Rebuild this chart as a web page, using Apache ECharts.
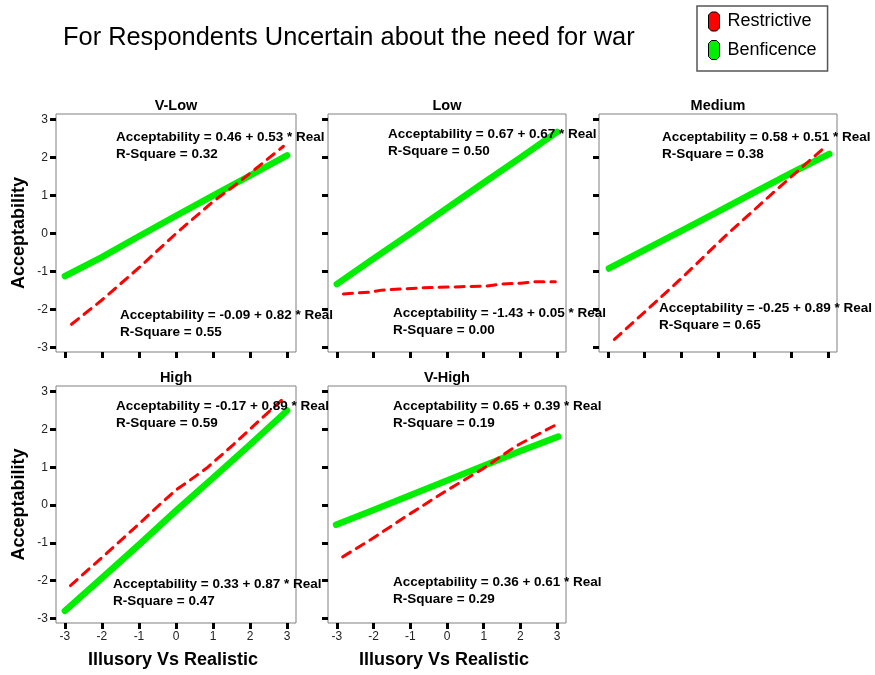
<!DOCTYPE html>
<html><head><meta charset="utf-8">
<script src="https://cdn.jsdelivr.net/npm/echarts@6/dist/echarts.min.js"></script>
<style>html,body{margin:0;padding:0;background:#fff}#c{width:875px;height:675px}</style>
</head><body><div id="c"></div>
<script>
// ---------- data ----------
const chartTitle = 'For Respondents Uncertain about the need for war';
const panelTitles = ['V-Low', 'Low', 'Medium', 'High', 'V-High'];
const tickValues = [-3, -2, -1, 0, 1, 2, 3];
const xTitle = 'Illusory Vs Realistic';
const yTitle = 'Acceptability';
const seriesNames = ['Restrictive', 'Benficence'];

// Benficence (green) fitted lines
const benVLow   = [[-3, -1.12], [-2, -0.62], [-1, -0.07], [0, 0.47], [1, 1.0], [2, 1.53], [3, 2.06]];
const benLow    = [[-3, -1.33], [-2, -0.66], [-1, 0.0], [0, 0.67], [1, 1.34], [2, 2.0], [3, 2.68]];
const benMedium = [[-2.97, -0.92], [-2, -0.43], [-1, 0.07], [0, 0.58], [1, 1.09], [2, 1.6], [3.03, 2.1]];
const benHigh   = [[-3, -2.8], [-2, -1.93], [-1, -1.05], [0, -0.15], [1, 0.72], [2, 1.6], [3, 2.5]];
const benVHigh  = [[-3.02, -0.52], [-2, -0.13], [-1, 0.26], [0, 0.65], [1, 1.04], [2, 1.43], [3.03, 1.81]];

// Restrictive (red dashed) lines
const resVLow   = [[-2.82, -2.39], [-2, -1.75], [-1, -0.9], [0.02, 0.02], [1.01, 0.85], [1.55, 1.24], [2.09, 1.66], [2.9, 2.3]];
const resLow    = [[-2.82, -1.59], [-2.05, -1.54], [-1.78, -1.49], [-0.7, -1.43], [0.38, -1.4], [1.1, -1.38], [1.46, -1.33], [2.0, -1.31], [2.36, -1.27], [2.95, -1.27]];
const resMedium = [[-2.82, -2.79], [-2, -2.07], [-0.93, -1.12], [0.16, -0.1], [1.6, 1.16], [2.96, 2.32]];
const resHigh   = [[-2.85, -2.13], [-1.9, -1.3], [-0.88, -0.39], [-0.4, 0.05], [0, 0.4], [0.38, 0.66], [0.83, 0.98], [1.55, 1.6], [2.1, 2.1], [2.91, 2.83]];
const resVHigh  = [[-2.84, -1.37], [-2.07, -0.91], [-0.99, -0.22], [0, 0.39], [0.98, 0.96], [1.62, 1.39], [1.97, 1.61], [2.92, 2.1]];

const benData = [benVLow, benLow, benMedium, benHigh, benVHigh];
const resData = [resVLow, resLow, resMedium, resHigh, resVHigh];

// regression annotations
const benEq = ['0.46 + 0.53', '0.67 + 0.67', '0.58 + 0.51', '-0.17 + 0.89', '0.65 + 0.39'];
const benR2 = ['0.32', '0.50', '0.38', '0.59', '0.19'];
const resEq = ['-0.09 + 0.82', '-1.43 + 0.05', '-0.25 + 0.89', '0.33 + 0.87', '0.36 + 0.61'];
const resR2 = ['0.55', '0.00', '0.65', '0.47', '0.29'];

// ---------- layout ----------
const FF = '"Liberation Sans", Arial, Helvetica, sans-serif';
const grids = [[56, 114, 240, 238], [328, 114, 238, 238], [599, 114, 238, 238], [56, 386, 240, 237], [328, 386, 238, 237]];
// [x, y] of the upper (Benficence) and lower (Restrictive) annotation first lines
const upperPos = [[116, 137], [388, 134], [662, 137], [116, 406], [393, 406]];
const lowerPos = [[120, 315], [393, 313], [659, 308], [113, 584], [393, 582]];
const lineGap = 17;

const green = '#00ee00', red = '#ff0000';

const option = {
  animation: false,
  backgroundColor: '#fff',
  textStyle: { fontFamily: FF },
  legend: {
    left: 697, top: 6, orient: 'vertical', selectedMode: false,
    itemWidth: 11, itemHeight: 19, itemGap: 8.5,
    padding: [5.5, 11, 11, 11],
    borderColor: '#555', borderWidth: 1.5,
    textStyle: { fontSize: 18, color: '#000', fontFamily: FF, padding: [0, 0, 0, 3] },
    data: [
      { name: seriesNames[0], icon: 'path://M3,0L8,0L11,3L11,16L8,19L3,19L0,16L0,3Z',
        itemStyle: { color: red, borderColor: '#000', borderWidth: 1 } },
      { name: seriesNames[1], icon: 'path://M3,0L8,0L11,3L11,16L8,19L3,19L0,16L0,3Z',
        itemStyle: { color: green, borderColor: '#000', borderWidth: 1 } }
    ]
  },
  grid: grids.map(g => ({ left: g[0], top: g[1], width: g[2], height: g[3], show: true,
    borderColor: '#808080', borderWidth: 1, backgroundColor: 'transparent' })),
  xAxis: grids.map((g, i) => ({
    gridIndex: i, type: 'value', min: -3.24, max: 3.24,
    axisLine: { show: false, onZero: false },
    axisTick: { show: true, length: 6, inside: false, lineStyle: { color: '#000', width: 3 }, customValues: tickValues },
    axisLabel: { show: i >= 3, customValues: tickValues, margin: 8, fontSize: 12, color: '#222', fontFamily: FF },
    splitLine: { show: false }
  })),
  yAxis: grids.map((g, i) => ({
    gridIndex: i, type: 'value', min: -3.12, max: 3.15,
    axisLine: { show: false, onZero: false },
    axisTick: { show: true, length: 6, inside: false, lineStyle: { color: '#000', width: 3 }, customValues: tickValues },
    axisLabel: { show: i === 0 || i === 3, customValues: tickValues, margin: 8, fontSize: 12, color: '#222', fontFamily: FF },
    splitLine: { show: false }
  })),
  series: [],
  graphic: []
};

grids.forEach((g, i) => {
  option.series.push({
    name: seriesNames[1], type: 'line', xAxisIndex: i, yAxisIndex: i, data: benData[i],
    showSymbol: false, symbol: 'none', color: green,
    lineStyle: { color: green, width: 6.5, cap: 'round', join: 'round' }, z: 2
  });
  option.series.push({
    name: seriesNames[0], type: 'line', xAxisIndex: i, yAxisIndex: i, data: resData[i],
    showSymbol: false, symbol: 'none', color: red,
    lineStyle: { color: red, width: 3, type: [9, 7], cap: 'round' }, z: 3
  });
});

function txt(x, y, text, font, align, extra) {
  return Object.assign({
    type: 'text', x: x, y: y, z: 10,
    style: { text: text, font: font, fill: '#000', textAlign: align, textVerticalAlign: 'middle', align: align, verticalAlign: 'middle' }
  }, extra || {});
}

const G = option.graphic;
G.push(txt(63, 38, chartTitle, '25.4px ' + FF, 'left'));
grids.forEach((g, i) => {
  G.push(txt(g[0] + g[2] / 2, g[1] - 8, panelTitles[i], 'bold 14.5px ' + FF, 'center'));
  const ef = 'bold 13.5px ' + FF;
  G.push(txt(upperPos[i][0], upperPos[i][1], 'Acceptability = ' + benEq[i] + ' * Real', ef, 'left'));
  G.push(txt(upperPos[i][0], upperPos[i][1] + lineGap, 'R-Square = ' + benR2[i], ef, 'left'));
  G.push(txt(lowerPos[i][0], lowerPos[i][1], 'Acceptability = ' + resEq[i] + ' * Real', ef, 'left'));
  G.push(txt(lowerPos[i][0], lowerPos[i][1] + lineGap, 'R-Square = ' + resR2[i], ef, 'left'));
});
[0, 3].forEach(i => {
  const g = grids[i];
  G.push(txt(19, g[1] + g[3] / 2, yTitle, 'bold 18px ' + FF, 'center', { rotation: Math.PI / 2 }));
});
[3, 4].forEach(i => {
  const g = grids[i];
  G.push(txt(g[0] + g[2] / 2 - 3, 660, xTitle, 'bold 18px ' + FF, 'center'));
});

const chart = echarts.init(document.getElementById('c'), null, { renderer: 'canvas' });
chart.setOption(option);
</script>
</body></html>
